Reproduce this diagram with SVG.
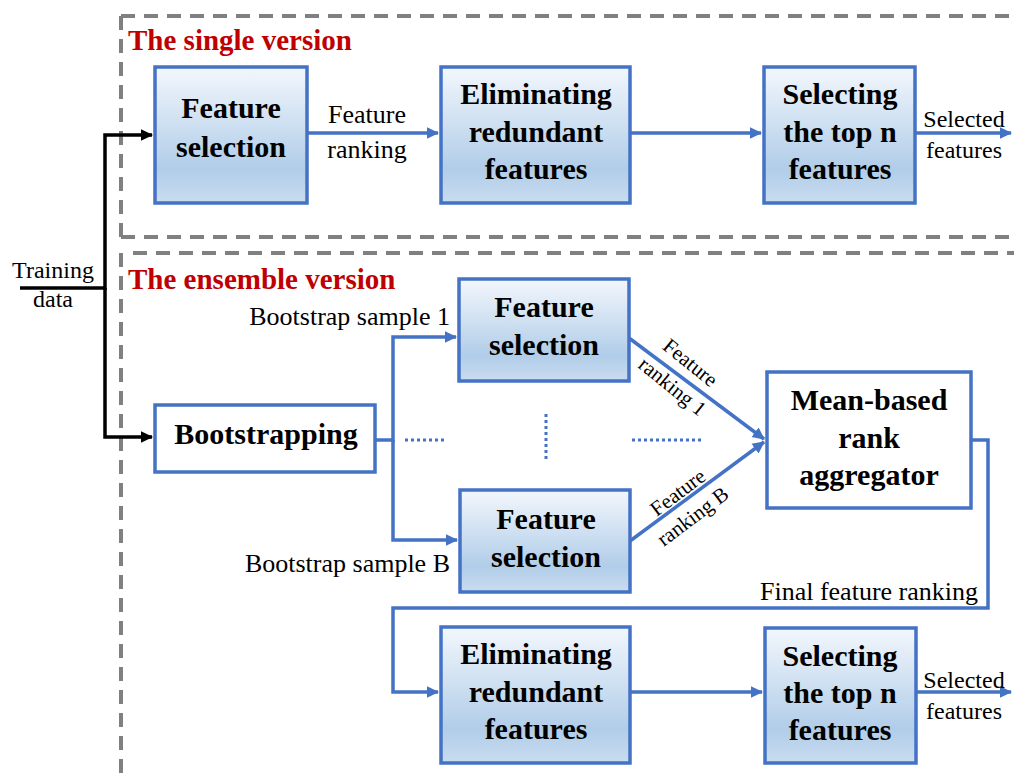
<svg xmlns="http://www.w3.org/2000/svg" width="1014" height="776" viewBox="0 0 1014 776">
<style>
.dash{fill:none;stroke:#808080;stroke-width:4;stroke-dasharray:14 9}
.title{font-family:"Liberation Serif",serif;font-weight:bold;font-size:29px;fill:#C00000}
.box{stroke:#4472C4;stroke-width:3.5;fill:url(#g)}
.wbox{stroke:#4472C4;stroke-width:3.5;fill:#fff}
.bt{font-family:"Liberation Serif",serif;font-weight:bold;font-size:30px;fill:#000;text-anchor:middle}
.lbl{font-family:"Liberation Serif",serif;font-size:26px;fill:#000}
.sm{font-family:"Liberation Serif",serif;font-size:24px;fill:#000;text-anchor:middle}
.dg{font-family:"Liberation Serif",serif;font-size:21px;fill:#000;text-anchor:middle}
.blue{fill:none;stroke:#4472C4;stroke-width:3.5}
.blk{fill:none;stroke:#000;stroke-width:3.5}
.dot{fill:none;stroke:#4472C4;stroke-width:3;stroke-dasharray:3 3}
</style>
<defs>
<linearGradient id="g" x1="0" y1="0" x2="0" y2="1">
<stop offset="0" stop-color="#F3F7FC"/>
<stop offset="0.75" stop-color="#B1CDE9"/>
<stop offset="1" stop-color="#CADCF0"/>
</linearGradient>
<marker id="ab" markerWidth="4" markerHeight="4" refX="3.2" refY="2" orient="auto" markerUnits="strokeWidth"><path d="M0,0.3 L3.5,2 L0,3.7 Z" fill="#4472C4"/></marker>
<marker id="ak" markerWidth="4" markerHeight="4" refX="3.2" refY="2" orient="auto" markerUnits="strokeWidth"><path d="M0,0.3 L3.5,2 L0,3.7 Z" fill="#000"/></marker>
</defs>
<rect width="1014" height="776" fill="#fff"/>
<g id="frames">
<path class="dash" d="M121,16 H1014 M121,16 V237 M121,237 H1014"/>
<path class="dash" d="M133,253 H1014 M121,253 V776"/>
<text class="title" x="128" y="50">The single version</text>
<text class="title" x="128" y="289">The ensemble version</text>
</g>
<g id="connectors">
<path class="blk" d="M20,288 H105 V135 H152" marker-end="url(#ak)"/>
<path class="blk" d="M105,288 V437 H152" marker-end="url(#ak)"/>
<path class="blue" d="M307,133 H438" marker-end="url(#ab)"/>
<path class="blue" d="M630,133 H761" marker-end="url(#ab)"/>
<path class="blue" d="M915,133 H1011" marker-end="url(#ab)"/>
<path class="blue" d="M375,440 H393 V337 H456" marker-end="url(#ab)"/>
<path class="blue" d="M393,440 V540 H457" marker-end="url(#ab)"/>
<path class="dot" d="M405,440 H446"/>
<path class="dot" d="M546,414 V462"/>
<path class="dot" d="M632,440 H702"/>
<path class="blue" d="M629,338 L764,439" marker-end="url(#ab)"/>
<path class="blue" d="M630,541 L764,442" marker-end="url(#ab)"/>
<path class="blue" d="M971,440 H988 V608 H393 V692 H438" marker-end="url(#ab)"/>
<path class="blue" d="M630,692 H762" marker-end="url(#ab)"/>
<path class="blue" d="M916,692 H1011" marker-end="url(#ab)"/>
<text class="lbl" x="367" y="123" text-anchor="middle">Feature</text>
<text class="lbl" x="367" y="158" text-anchor="middle">ranking</text>
<text class="sm" x="964" y="127">Selected</text>
<text class="sm" x="964" y="158">features</text>
<text class="sm" x="53" y="278">Training</text>
<text class="sm" x="53" y="307">data</text>
<text class="lbl" x="450" y="325" text-anchor="end">Bootstrap sample 1</text>
<text class="lbl" x="450" y="572" text-anchor="end">Bootstrap sample B</text>
<text class="dg" transform="translate(686,368) rotate(39)">Feature</text>
<text class="dg" transform="translate(668,392) rotate(39)">ranking 1</text>
<text class="dg" transform="translate(682,498) rotate(-37)">Feature</text>
<text class="dg" transform="translate(697,522) rotate(-37)">ranking B</text>
<text class="lbl" x="978" y="600" text-anchor="end">Final feature ranking</text>
<text class="sm" x="964" y="688">Selected</text>
<text class="sm" x="964" y="719">features</text>
</g>
<g id="fs1"><rect class="box" x="155" y="67" width="152" height="136"/><text class="bt" x="231" y="118">Feature</text><text class="bt" x="231" y="157">selection</text></g>
<g id="elim1"><rect class="box" x="441" y="67" width="189" height="136"/><text class="bt" x="536" y="104">Eliminating</text><text class="bt" x="536" y="142">redundant</text><text class="bt" x="536" y="179">features</text></g>
<g id="sel1"><rect class="box" x="764" y="67" width="151" height="136"/><text class="bt" x="840" y="104">Selecting</text><text class="bt" x="840" y="142">the top n</text><text class="bt" x="840" y="179">features</text></g>
<g id="boot"><rect class="wbox" x="155" y="405" width="220" height="67"/><text class="bt" x="266" y="444">Bootstrapping</text></g>
<g id="fsA"><rect class="box" x="459" y="279" width="170" height="102"/><text class="bt" x="544" y="317">Feature</text><text class="bt" x="544" y="355">selection</text></g>
<g id="fsB"><rect class="box" x="460" y="490" width="170" height="102"/><text class="bt" x="546" y="529">Feature</text><text class="bt" x="546" y="567">selection</text></g>
<g id="agg"><rect class="wbox" x="767" y="372" width="204" height="136"/><text class="bt" x="869" y="410">Mean-based</text><text class="bt" x="869" y="448">rank</text><text class="bt" x="869" y="485">aggregator</text></g>
<g id="elim2"><rect class="box" x="441" y="627" width="189" height="136"/><text class="bt" x="536" y="664">Eliminating</text><text class="bt" x="536" y="702">redundant</text><text class="bt" x="536" y="739">features</text></g>
<g id="sel2"><rect class="box" x="765" y="628" width="151" height="135"/><text class="bt" x="840" y="666">Selecting</text><text class="bt" x="840" y="703">the top n</text><text class="bt" x="840" y="740">features</text></g>
</svg>
